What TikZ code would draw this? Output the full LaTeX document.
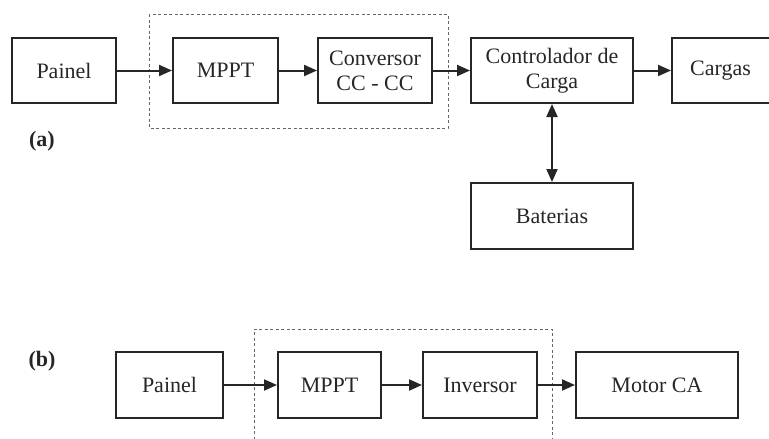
\documentclass[tikz,border=0pt]{standalone}
\usepackage{fontspec}
\setmainfont{Liberation Serif}
\usetikzlibrary{arrows.meta}
\begin{document}
\begin{tikzpicture}[x=1pt,y=-1pt,
  blk/.style={draw=black!85,line width=2pt,rectangle,align=center,inner sep=0pt,
    text=black!85,font=\fontsize{22}{25}\selectfont},
  conn/.style={line width=2pt,draw=black!85,-{Triangle[length=13pt,width=11pt]}},
  biconn/.style={line width=2pt,draw=black!85,{Triangle[length=13pt,width=11pt]}-{Triangle[length=13pt,width=11pt]}},
  grp/.style={draw=black!60,line width=1pt,dash pattern=on 3pt off 2.5pt},
  lbl/.style={font=\fontsize{22}{26}\selectfont\bfseries,text=black!85,inner sep=0pt}]
\useasboundingbox (0,0) rectangle (769,439);
\clip (0,0) rectangle (769,439);
% part (a)
\draw[grp] (149,14) rectangle (448,128);
\node[blk,minimum width=104pt,minimum height=65pt] (painelA) at (64,70.5) {Painel};
\node[blk,minimum width=105pt,minimum height=65pt] (mpptA) at (225.5,70.5) {MPPT};
\node[blk,minimum width=114pt,minimum height=65pt] (convA) at (375,70.5) {Conversor\\CC - CC};
\node[blk,minimum width=162pt,minimum height=65pt] (ctrlA) at (552,70.5) {Controlador de\\Carga};
\node[blk,minimum width=101pt,minimum height=65pt] (cargasA) at (722.5,70.5) {\hspace*{-4pt}Cargas};
\node[blk,minimum width=162pt,minimum height=66pt] (batA) at (552,216) {Baterias};
\node[lbl] (la) at (42,141) {(a)};
\draw[conn] (painelA) -- (mpptA);
\draw[conn] (mpptA) -- (convA);
\draw[conn] (convA) -- (ctrlA);
\draw[conn] (ctrlA) -- (cargasA.west);
\draw[biconn] (ctrlA.south) -- (batA.north);
% part (b)
\coordinate (gb1) at (254,445);
\coordinate (gb2) at (552,445);
\draw[grp] (gb1) -- (254,329) -- (552,329) -- (gb2);
\node[blk,minimum width=107pt,minimum height=66pt] (painelB) at (169.5,385) {Painel};
\node[blk,minimum width=103pt,minimum height=66pt] (mpptB) at (329.5,385) {MPPT};
\node[blk,minimum width=114pt,minimum height=66pt] (invB) at (480,385) {Inversor};
\node[blk,minimum width=162pt,minimum height=66pt] (motorB) at (657,385) {Motor CA};
\node[lbl] (lb) at (42,361) {(b)};
\draw[conn] (painelB) -- (mpptB);
\draw[conn] (mpptB) -- (invB);
\draw[conn] (invB) -- (motorB);
\end{tikzpicture}
\end{document}
